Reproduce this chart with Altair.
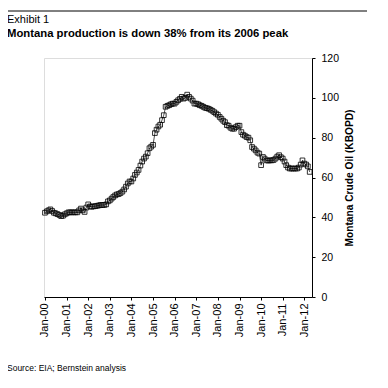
import altair as alt
import pandas as pd

# Monthly Montana crude oil production (KBOPD), Jan 2000 - Apr 2012
v2000 = [42.3, 43.0, 43.5, 44.0, 43.2, 42.3, 42.0, 41.6, 41.2, 40.6, 40.8, 41.5]
v2001 = [42.0, 42.5, 42.5, 42.5, 42.5, 42.5, 42.5, 43.5, 44.4, 43.5, 42.7, 44.9]
v2002 = [46.5, 45.5, 45.3, 45.5, 45.6, 45.8, 46.0, 46.2, 46.2, 46.2, 46.5, 48.0]
v2003 = [48.5, 49.4, 50.2, 51.0, 51.5, 51.7, 52.2, 52.9, 54.0, 55.4, 57.0, 58.0]
v2004 = [58.0, 59.5, 61.3, 62.5, 63.8, 66.0, 68.0, 69.5, 70.5, 72.2, 74.7, 75.5]
v2005 = [76.4, 82.3, 84.0, 85.6, 86.5, 88.8, 91.3, 95.5, 96.0, 96.3, 96.8, 97.1]
v2006 = [97.1, 98.0, 98.8, 99.5, 100.5, 99.6, 100.0, 101.6, 100.5, 99.6, 98.6, 97.1]
v2007 = [97.1, 96.8, 96.3, 96.0, 95.5, 95.0, 94.8, 94.5, 94.0, 93.5, 92.8, 92.1]
v2008 = [91.5, 90.4, 89.5, 88.5, 87.8, 86.3, 86.0, 85.0, 84.5, 84.5, 85.3, 86.0]
v2009 = [86.0, 82.8, 81.5, 81.0, 80.3, 80.0, 78.7, 75.3, 74.5, 73.6, 72.5, 72.0]
v2010 = [66.2, 70.3, 69.5, 68.6, 68.5, 68.6, 68.6, 68.8, 69.5, 70.5, 71.2, 70.2]
v2011 = [69.5, 68.0, 66.2, 65.0, 64.5, 64.5, 64.5, 64.5, 64.5, 65.0, 66.5, 68.6]
v2012 = [67.0, 66.5, 65.6, 62.8]

values = (v2000 + v2001 + v2002 + v2003 + v2004 + v2005 + v2006 + v2007
          + v2008 + v2009 + v2010 + v2011 + v2012)
dates = pd.date_range("2000-01-01", periods=len(values), freq="MS")

tick_years = list(range(2000, 2013))
y_ticks = [0, 20, 40, 60, 80, 100, 120]

header_text = "Exhibit 1"
title_text = "Montana production is down 38% from its 2006 peak"
source_text = "Source: EIA; Bernstein analysis"
y_title = "Montana Crude Oil (KBOPD)"

FONT = "Liberation Sans"

df = pd.DataFrame({"date": dates, "value": values})
one = pd.DataFrame({"k": [0]})

x_enc = alt.X(
    "date:T",
    scale=alt.Scale(domain=[alt.DateTime(year=1999, month=12, date=16),
                            alt.DateTime(year=2012, month=5, date=10)]),
    axis=alt.Axis(
        values=[alt.DateTime(year=y, month=1, date=1) for y in tick_years],
        format="%b-%y", labelAngle=270, title=None, grid=False,
        tickSize=3, labelPadding=3, labelFontSize=11, labelFont=FONT,
        labelColor="black", domainColor="black", tickColor="black",
        labelOverlap=False,
    ),
)
y_enc = alt.Y(
    "value:Q",
    scale=alt.Scale(domain=[0, 120]),
    axis=alt.Axis(
        orient="right", values=y_ticks, title=y_title, grid=False,
        tickSize=3, labelPadding=6, labelFontSize=10.5, labelFont=FONT,
        labelColor="black", domainColor="black", tickColor="black",
        titleFont=FONT, titleFontSize=10.2, titleFontWeight="bold",
        titleColor="black", titleAngle=270, titleBaseline="middle",
        titleAlign="center", titleX=37, titleY=119.5,
    ),
)

line = alt.Chart(df).mark_line(color="black", strokeWidth=0.7).encode(x=x_enc, y=y_enc)
pts = alt.Chart(df).mark_point(shape="square", filled=False, color="black",
                               size=22, strokeWidth=0.8, opacity=1).encode(x=x_enc, y=y_enc)

hdr = alt.Chart(one).mark_text(align="left", baseline="alphabetic", font=FONT,
                               fontSize=11, color="black").encode(
    x=alt.value(-37), y=alt.value(-34.7), text=alt.value(header_text))
ttl = alt.Chart(one).mark_text(align="left", baseline="alphabetic", font=FONT,
                               fontSize=11.3, fontWeight="bold", color="black").encode(
    x=alt.value(-37), y=alt.value(-21.3), text=alt.value(title_text))
src = alt.Chart(one).mark_text(align="left", baseline="alphabetic", font=FONT,
                               fontSize=8.5, color="black").encode(
    x=alt.value(-37), y=alt.value(313), text=alt.value(source_text))
rule = alt.Chart(one).mark_rule(color="black", strokeWidth=1).encode(
    x=alt.value(-37), x2=alt.value(323), y=alt.value(-47))

chart = alt.layer(line, pts, hdr, ttl, src, rule).properties(
    width=268, height=239,
    autosize=alt.AutoSizeParams(type="none"),
    padding={"left": 36, "top": 50, "right": 60, "bottom": 80},
).configure_view(strokeWidth=0).configure(background="white")

chart.save("out.html", embed_options={"renderer": "svg", "actions": False})
